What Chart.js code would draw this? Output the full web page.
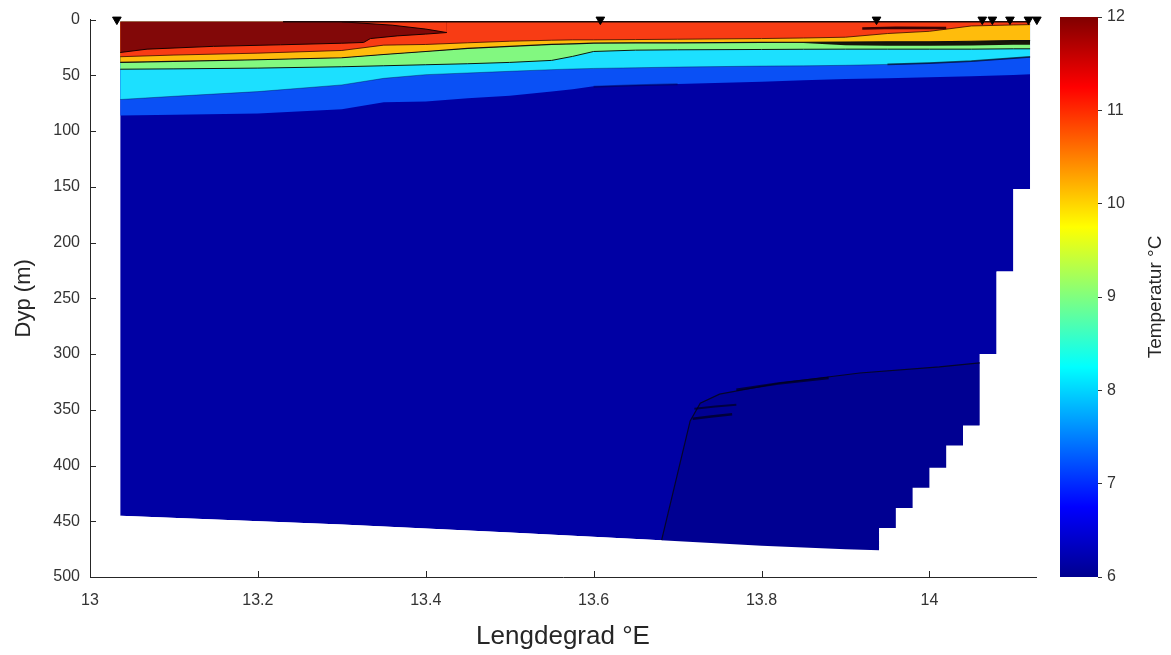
<!DOCTYPE html>
<html>
<head>
<meta charset="utf-8">
<title>Temperatursnitt</title>
<script src="https://cdn.jsdelivr.net/npm/chart.js@4.4.1/dist/chart.umd.min.js"></script>
<style>
  html, body { margin: 0; padding: 0; background: #fff; }
  #wrap { position: relative; width: 1171px; height: 655px; overflow: hidden; }
  #snitt { position: absolute; left: 0; top: 0; }
  #skala { position: absolute; left: 1040px; top: 0; }
</style>
</head>
<body>
<div id="wrap">
  <canvas id="snitt" width="1171" height="655"></canvas>
  <canvas id="skala" width="131" height="655"></canvas>
</div>
<script>
// akser
var xTikk = [13, 13.2, 13.4, 13.6, 13.8, 14];
var yTikk = [0, 50, 100, 150, 200, 250, 300, 350, 400, 450, 500];
var skalaTikk = [6, 7, 8, 9, 10, 11, 12];
var overflate = 2;   // øverste måledyp

// lengdegrad for konturgrensene
var lon = [13.036, 13.10, 13.20, 13.30, 13.35, 13.40, 13.45, 13.50, 13.55, 13.575, 13.60,
           13.65, 13.70, 13.80, 13.85, 13.90, 13.95, 14.00, 14.05, 14.10, 14.12];

// dybde (m) til underkant av hvert lag
var dyp7  = [86.0, 85.4, 84.2, 80.5, 74.1, 73.5, 70.5, 68.2, 64.6, 62.5, 59.8, 58.6, 57.7, 55.7, 54.5, 53.3, 52.7, 51.8, 50.9, 49.7, 49.1];
var dyp8  = [71.7, 68.8, 64.6, 58.6, 52.7, 49.4, 47.9, 46.4, 44.9, 44.3, 43.8, 43.2, 42.6, 41.7, 41.5, 41.0, 40.2, 39.0, 37.3, 34.5, 33.5];
var dyp9  = [44.5, 44.2, 43.5, 42.3, 41.4, 40.5, 39.6, 38.4, 36.6, 33.0, 28.6, 27.4, 27.1, 26.8, 26.6, 26.5, 26.5, 26.5, 26.5, 26.2, 26.2];
var pakke = [38.4, 37.5, 36.0, 34.2, 31.3, 28.6, 25.9, 24.1, 22.3, 21.7, 21.1, 20.8, 20.8, 20.5, 21.0, 23.0, 23.5, 23.5, 23.2, 22.6, 22.6];
var dyp10 = [38.4, 37.5, 36.0, 34.2, 31.3, 28.6, 25.9, 24.1, 22.3, 21.7, 21.1, 20.8, 20.8, 20.5, 20.3, 20.2, 19.9, 19.9, 19.4, 18.8, 18.8];
var dyp11 = [33.3, 31.8, 30.1, 27.7, 22.9, 22.3, 20.8, 19.4, 18.5, 18.2, 18.2, 17.9, 17.6, 17.0, 16.5, 15.8, 12.5, 10.5, 5.7, 4.8, 4.5];

// varmeste kjerne (mørk rød tunge)
var tungeLon = [13.036, 13.068, 13.147, 13.227, 13.30, 13.326, 13.334, 13.366, 13.40, 13.425];
var tungeDyp = [29.5, 26.5, 24.0, 22.6, 21.2, 20.5, 17.0, 14.6, 13.0, 11.6];
var kileLon = [13.30, 13.36, 13.40, 13.425];
var kileDyp = [2, 5, 8.5, 11.6];
var stripeLon = [13.92, 13.96, 14.02];
var stripeDyp = [8.0, 7.2, 7.5];
var toppLon = [13.23, 14.12];
var toppDyp = [2, 2];

// tette konturer ved laggrensene
var skyggeLon = [13.60, 13.65, 13.70];
var skyggeDyp = [60.2, 59.0, 58.1];
var kantLon = [13.95, 14.00, 14.05, 14.10, 14.12];
var kantDyp = [40.2, 39.0, 37.3, 34.5, 33.5];

// kaldeste bunnvann
var kaldLon = [13.681, 13.715, 13.727, 13.75, 13.822, 13.917, 14.012, 14.06];
var kaldDyp = [467, 360, 344, 336, 326, 317, 311.6, 308];
var strekALon = [13.77, 13.82, 13.88];
var strekADyp = [332.0, 326.5, 321.5];
var strekBLon = [13.72, 13.745, 13.77];
var strekBDyp = [349, 347, 345.5];
var strekCLon = [13.718, 13.74, 13.765];
var strekCDyp = [358, 356, 354];

// bunn og siste dyp på stasjonene
var bunnLon = [13.036, 13.30, 13.50, 13.68, 13.80, 13.90, 13.94, 13.94, 13.96, 13.96, 13.98, 13.98,
               14.00, 14.00, 14.02, 14.02, 14.04, 14.04, 14.06, 14.06, 14.08, 14.08, 14.10, 14.10, 14.12];
var bunnDyp = [445, 453, 460, 467, 472, 475, 476, 456, 456, 438, 438, 420,
               420, 402, 402, 382, 382, 364, 364, 300, 300, 226, 226, 152, 152];

// CTD-stasjoner
var stasjonLon = [13.032, 13.608, 13.937, 14.063, 14.075, 14.096, 14.118, 14.128];

var FONT = '"Liberation Sans", Arial, sans-serif';
Chart.defaults.font.family = FONT;
Chart.defaults.color = '#333333';

function punkter(xs, ys) {
  return xs.map(function(x, i) { return {x: x, y: ys[i]}; });
}
function flate(xs, ys, farge, mot) {
  return {data: punkter(xs, ys), showLine: true, pointRadius: 0, borderWidth: 0,
          backgroundColor: farge, fill: {value: mot}};
}
function linje(xs, ys, farge, bredde) {
  return {data: punkter(xs, ys), showLine: true, pointRadius: 0, borderWidth: bredde,
          borderColor: farge, fill: false};
}

var lagene = [
  flate(bunnLon, bunnDyp, '#0000A4', overflate),
  flate(kaldLon, kaldDyp, '#000092', 500),
  flate(bunnLon, bunnDyp, '#ffffff', 500),
  flate(lon, dyp7, '#0A50F5', overflate),
  flate(lon, dyp8, '#1CE0FF', overflate),
  flate(lon, dyp9, '#82F880', overflate),
  flate(lon, pakke, '#161608', overflate),
  flate(lon, dyp10, '#FFBC0C', overflate),
  flate(lon, dyp11, '#F83C14', overflate),
  flate(tungeLon, tungeDyp, '#820808', overflate),
  flate(kileLon, kileDyp, '#F83C14', overflate),
  linje(kaldLon, kaldDyp, '#05052a', 1.2),
  linje(strekALon, strekADyp, 'rgba(0,0,30,0.75)', 2.5),
  linje(strekBLon, strekBDyp, 'rgba(0,0,30,0.7)', 2),
  linje(strekCLon, strekCDyp, 'rgba(0,0,30,0.75)', 2.5),
  linje(skyggeLon, skyggeDyp, 'rgba(0,0,60,0.4)', 2),
  linje(lon, dyp8, 'rgba(0,0,40,0.35)', 1),
  linje(kantLon, kantDyp, 'rgba(0,0,20,0.6)', 1.8),
  linje(lon, dyp9, '#0a1a10', 1),
  linje(lon, dyp10, '#111111', 1.2),
  linje(lon, dyp11, '#3a0a00', 0.8),
  linje(tungeLon, tungeDyp, '#1a0000', 1),
  linje(kileLon, kileDyp, '#1a0000', 1),
  linje(stripeLon, stripeDyp, '#3a0303', 2.5),
  linje(toppLon, toppDyp, '#1a0a0a', 1.5),
  {data: stasjonLon.map(function(x) { return {x: x, y: 0}; }), showLine: false,
   pointStyle: 'triangle', rotation: 180, pointRadius: 5, backgroundColor: '#000',
   borderColor: '#000', borderWidth: 1, clip: false}
];
lagene.forEach(function(d, i) { d.order = lagene.length - i; });

var innTikk = {
  id: 'innTikk',
  afterDraw: function(chart) {
    var ctx = chart.ctx, a = chart.chartArea, sx = chart.scales.x, sy = chart.scales.y;
    ctx.save();
    ctx.strokeStyle = '#262626';
    ctx.lineWidth = 1;
    ctx.beginPath();
    sx.ticks.forEach(function(t) {
      var px = Math.round(sx.getPixelForValue(t.value)) + 0.5;
      ctx.moveTo(px, a.bottom); ctx.lineTo(px, a.bottom - 6);
    });
    sy.ticks.forEach(function(t) {
      var py = Math.round(sy.getPixelForValue(t.value)) + 0.5;
      ctx.moveTo(a.left, py); ctx.lineTo(a.left + 6, py);
    });
    ctx.stroke();
    ctx.restore();
  }
};

new Chart(document.getElementById('snitt'), {
  type: 'scatter',
  data: {datasets: lagene},
  options: {
    responsive: false,
    animation: false,
    events: [],
    layout: {padding: {left: 0, right: 135, top: 17, bottom: 0}},
    plugins: {legend: {display: false}, tooltip: {enabled: false}},
    scales: {
      x: {
        type: 'linear', min: 13, max: 14.127,
        afterBuildTicks: function(s) { s.ticks = xTikk.map(function(v) { return {value: v}; }); },
        afterFit: function(s) { s.height = 78; },
        grid: {display: false, drawTicks: false},
        border: {display: true, color: '#262626', width: 1, z: 1},
        ticks: {padding: 14, font: {size: 16}, callback: function(v) { return String(v); }},
        title: {display: true, text: 'Lengdegrad °E', color: '#262626', font: {size: 26},
                padding: {top: 0, bottom: 3}}
      },
      y: {
        type: 'linear', reverse: true, min: 0, max: 500,
        afterBuildTicks: function(s) { s.ticks = yTikk.map(function(v) { return {value: v}; }); },
        afterFit: function(s) { s.width = 90; },
        grid: {display: false, drawTicks: false},
        border: {display: true, color: '#262626', width: 1, z: 1},
        ticks: {padding: 10, font: {size: 16}},
        title: {display: true, text: 'Dyp (m)', color: '#262626', font: {size: 22},
                padding: {top: 11, bottom: 0}}
      }
    }
  },
  plugins: [innTikk]
});

// fargeskala (jet)
var jetPos = [0, 0.125, 0.375, 0.625, 0.875, 1];
var jetFarge = ['#00008F', '#0000FF', '#00FFFF', '#FFFF00', '#FF0000', '#800000'];

function jetGradient(c) {
  var a = c.chart.chartArea;
  if (!a) return '#000080';
  var g = c.chart.ctx.createLinearGradient(0, a.bottom, 0, a.top);
  jetPos.forEach(function(p, i) { g.addColorStop(p, jetFarge[i]); });
  return g;
}

var skalaTittel = {
  id: 'skalaTittel',
  afterDraw: function(chart) {
    var ctx = chart.ctx, a = chart.chartArea;
    ctx.save();
    ctx.translate(a.right + 58, (a.top + a.bottom) / 2);
    ctx.rotate(-Math.PI / 2);
    ctx.fillStyle = '#262626';
    ctx.font = '19px ' + FONT;
    ctx.textAlign = 'center';
    ctx.textBaseline = 'middle';
    ctx.fillText('Temperatur °C', 0, 0);
    ctx.restore();
  }
};

new Chart(document.getElementById('skala'), {
  type: 'bar',
  data: {
    labels: [''],
    datasets: [{data: [[skalaTikk[0], skalaTikk[skalaTikk.length - 1]]], backgroundColor: jetGradient,
                borderWidth: 0, barPercentage: 1, categoryPercentage: 1}]
  },
  options: {
    responsive: false,
    animation: false,
    events: [],
    layout: {padding: {left: 20, right: 0, top: 17, bottom: 78}},
    plugins: {legend: {display: false}, tooltip: {enabled: false}},
    scales: {
      x: {display: false},
      y: {
        position: 'right', min: 6, max: 12,
        afterBuildTicks: function(s) { s.ticks = skalaTikk.map(function(v) { return {value: v}; }); },
        afterFit: function(s) { s.width = 73; },
        grid: {drawOnChartArea: false, drawTicks: true, tickLength: 4, color: '#333333'},
        border: {display: false},
        ticks: {padding: 5, font: {size: 16}}
      }
    }
  },
  plugins: [skalaTittel]
});
</script>
</body>
</html>
